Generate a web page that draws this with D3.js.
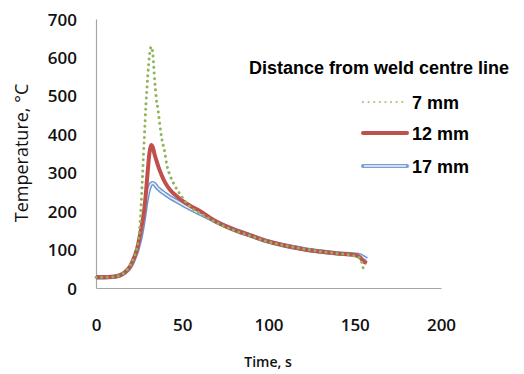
<!DOCTYPE html>
<html>
<head>
<meta charset="utf-8">
<script src="https://cdn.jsdelivr.net/npm/d3@7"></script>
<style>
  body { margin: 0; background: #fff; }
  svg { display: block; }
</style>
</head>
<body>
<div id="my_dataviz"></div>
<script>
// values
const xTicks = [0, 50, 100, 150, 200];
const yTicks = [0, 100, 200, 300, 400, 500, 600, 700];

const time7 = [0, 5, 10, 14, 17, 20, 22, 24, 25, 26, 27, 28, 29, 30, 31, 32, 33, 34, 35, 36, 37, 38, 40, 41, 43, 46, 50, 53, 56, 60, 70, 80, 90, 100, 110, 120, 130, 140, 150, 153, 155];
const temp7 = [28, 28, 29, 33, 42, 60, 80, 110, 140, 200, 295, 390, 480, 550, 605, 628, 606, 540, 492, 462, 425, 393, 350, 322, 292, 264, 236, 219, 206, 195, 170, 150, 135, 120, 110, 102, 95, 90, 83, 78, 50];

const time12 = [0, 5, 10, 14, 17, 20, 22, 24, 26, 28, 29, 30, 31, 32, 33, 34, 35, 36, 38, 40, 43, 47, 51, 55, 60, 70, 80, 90, 100, 110, 120, 130, 140, 150, 153, 155, 157];
const temp12 = [28, 28, 29, 33, 42, 58, 78, 105, 150, 205, 250, 305, 352, 372, 365, 347, 332, 318, 294, 275, 255, 238, 224, 213, 201, 172, 152, 136, 121, 110, 101, 95, 90, 86, 80, 70, 65];

const time17 = [0, 5, 10, 14, 17, 20, 22, 24, 26, 28, 29, 30, 31, 32, 33, 34, 35, 37, 40, 43, 48, 54, 62, 70, 80, 90, 100, 110, 120, 130, 140, 150, 153, 155, 157];
const temp17 = [28, 28, 29, 33, 41, 56, 75, 100, 135, 188, 220, 245, 262, 271, 273, 270, 264, 255, 245, 236, 223, 208, 190, 172, 152, 136, 121, 110, 102, 95, 90, 87, 85, 80, 75];

const seriesNames = ["7 mm", "12 mm", "17 mm"];

const W = 524, H = 374;
const plotLeft = 96, plotRight = 441, plotTop = 19, plotBottom = 288;

const svg = d3.select("#my_dataviz")
  .append("svg")
    .attr("width", W)
    .attr("height", H);

const x = d3.scaleLinear().domain([0, 200]).range([plotLeft, plotRight]);
const y = d3.scaleLinear().domain([0, 700]).range([plotBottom, plotTop]);

// axes, no tick marks (spreadsheet style)
const xAxis = svg.append("g")
    .attr("transform", "translate(0," + plotBottom + ")")
    .call(d3.axisBottom(x).tickValues(xTicks).tickSize(0).tickPadding(0));
xAxis.select(".domain").attr("stroke", "#a6a6a6").attr("stroke-width", 1.2);
xAxis.selectAll("text")
    .attr("dy", null)
    .attr("y", 43)
    .style("font-family", "'Open Sans', sans-serif")
    .style("font-weight", 600)
    .style("font-size", "17px")
    .attr("fill", "#111");

const yAxis = svg.append("g")
    .attr("transform", "translate(" + plotLeft + ",0)")
    .call(d3.axisLeft(y).tickValues(yTicks).tickSize(0).tickPadding(19));
yAxis.select(".domain").attr("stroke", "#a6a6a6").attr("stroke-width", 1.2);
yAxis.selectAll("text")
    .attr("dy", "0.36em")
    .style("font-family", "'Open Sans', sans-serif")
    .style("font-weight", 600)
    .style("font-size", "17px")
    .attr("fill", "#111");

// axis titles
svg.append("text")
    .attr("x", 268)
    .attr("y", 367)
    .style("text-anchor", "middle")
    .style("font-family", "'Open Sans', sans-serif")
    .style("font-weight", 600)
    .style("font-size", "14px")
    .attr("fill", "#111")
    .text("Time, s");

svg.append("text")
    .attr("transform", "translate(28,153) rotate(-90)")
    .style("text-anchor", "middle")
    .style("font-family", "'Open Sans', sans-serif")
    .style("font-weight", 500)
    .style("font-size", "18px")
    .attr("fill", "#111")
    .text("Temperature, \u00B0C");

const line = d3.line()
    .x(function(d) { return x(d[0]); })
    .y(function(d) { return y(d[1]); })
    .curve(d3.curveMonotoneX);

const d7 = time7.map((t, i) => [t, temp7[i]]);
const d12 = time12.map((t, i) => [t, temp12[i]]);
const d17 = time17.map((t, i) => [t, temp17[i]]);

// 17 mm: double line
svg.append("path").datum(d17)
    .attr("fill", "none").attr("stroke", "#6a95d2").attr("stroke-width", 4.4)
    .attr("d", line);
svg.append("path").datum(d17)
    .attr("fill", "none").attr("stroke", "#e4ecf7").attr("stroke-width", 1.6)
    .attr("d", line);

// 12 mm
svg.append("path").datum(d12)
    .attr("fill", "none").attr("stroke", "#c0504d").attr("stroke-width", 4)
    .attr("stroke-linejoin", "round")
    .attr("d", line);

// 7 mm: round dots
svg.append("path").datum(d7)
    .attr("fill", "none").attr("stroke", "#8fb45a").attr("stroke-width", 3)
    .attr("stroke-linecap", "round")
    .attr("stroke-dasharray", "0.01 5.6")
    .attr("d", line);

// legend
svg.append("text")
    .attr("x", 249)
    .attr("y", 74)
    .style("font-family", "'Liberation Sans', Arial, sans-serif")
    .style("font-weight", 700)
    .style("font-size", "18px")
    .attr("fill", "#000")
    .text("Distance from weld centre line");

const legY = [102, 133, 166];
const lx0 = 363, lx1 = 407;

svg.append("line")
    .attr("x1", lx0).attr("x2", lx1).attr("y1", legY[0]).attr("y2", legY[0])
    .attr("stroke", "#a9c47a").attr("stroke-width", 2.2)
    .attr("stroke-linecap", "round").attr("stroke-dasharray", "0.01 5.6");
svg.append("line")
    .attr("x1", lx0).attr("x2", lx1).attr("y1", legY[1]).attr("y2", legY[1])
    .attr("stroke", "#c0504d").attr("stroke-width", 4).attr("stroke-linecap", "round");
svg.append("line")
    .attr("x1", lx0).attr("x2", lx1).attr("y1", legY[2]).attr("y2", legY[2])
    .attr("stroke", "#7a9fd6").attr("stroke-width", 4).attr("stroke-linecap", "round");
svg.append("line")
    .attr("x1", lx0 + 1).attr("x2", lx1 - 1).attr("y1", legY[2]).attr("y2", legY[2])
    .attr("stroke", "#eef3fa").attr("stroke-width", 1.5);

svg.selectAll(".legtext")
  .data(seriesNames)
  .enter()
  .append("text")
    .attr("class", "legtext")
    .attr("x", 412)
    .attr("y", (d, i) => legY[i] + 6.5)
    .style("font-family", "'Liberation Sans', Arial, sans-serif")
    .style("font-weight", 700)
    .style("font-size", "18px")
    .attr("fill", "#000")
    .text(d => d);
</script>
</body>
</html>
